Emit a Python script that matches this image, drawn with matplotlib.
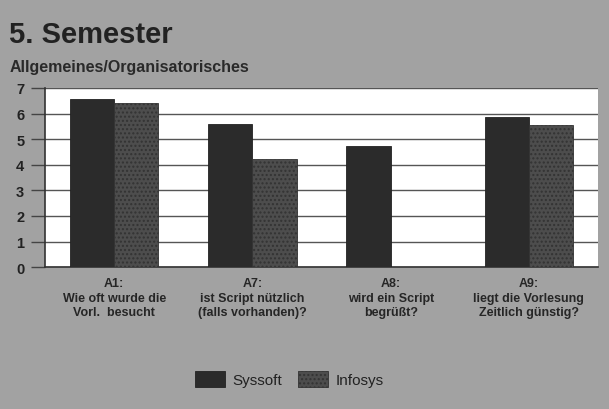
import numpy as np
import matplotlib.pyplot as plt

plt.rcParams["font.family"] = ["Liberation Sans", "DejaVu Sans"]

# Data
categories = ["A1:\nWie oft wurde die\nVorl.  besucht",
              "A7:\nist Script nützlich\n(falls vorhanden)?",
              "A8:\nwird ein Script\nbegrüßt?",
              "A9:\nliegt die Vorlesung\nZeitlich günstig?"]
syssoft = [6.55, 5.6, 4.72, 5.85]
infosys = [6.4, 4.22, np.nan, 5.56]
yticks = [0, 1, 2, 3, 4, 5, 6, 7]

bg = "#a2a2a2"
fig = plt.figure(figsize=(6.09, 4.10), dpi=100, facecolor=bg)
ax = fig.add_axes([0.074, 0.346, 0.908, 0.437])
ax.set_facecolor("white")

x = np.arange(len(categories))
w = 0.32
ax.bar(x - w/2, syssoft, w, color="#2b2b2b", edgecolor="#222222", lw=0.6,
       label="Syssoft", zorder=3)
ax.bar(x + w/2, infosys, w, color="#4d4d4d", edgecolor="#333333", lw=0.6,
       hatch="....", label="Infosys", zorder=3)

ax.set_xlim(-0.5, len(categories) - 0.5)
ax.set_ylim(0, 7)
ax.set_yticks(yticks)
ax.set_yticklabels([str(t) for t in yticks], fontsize=10.5, color="#222222",
                   fontweight="bold")
ax.yaxis.grid(True, color="#555555", lw=1.0, zorder=0)
ax.tick_params(axis="y", length=10, width=1, color="#444444", pad=5)
ax.set_xticks(x)
ax.set_xticklabels(categories, fontsize=9, color="#262626", linespacing=1.3,
                   fontweight="bold")
ax.tick_params(axis="x", length=0, pad=7)
for s in ["top", "right"]:
    ax.spines[s].set_visible(False)
ax.spines["left"].set_color("#333333")
ax.spines["left"].set_linewidth(1.2)
ax.spines["bottom"].set_color("#333333")
ax.spines["bottom"].set_linewidth(1.2)

fig.text(0.015, 0.915, "5. Semester", fontsize=21, fontweight="bold",
         color="#222222", va="center", ha="left")
fig.text(0.015, 0.835, "Allgemeines/Organisatorisches", fontsize=11.5,
         fontweight="bold", color="#2a2a2a", va="center", ha="left")

leg = fig.legend(loc="center", bbox_to_anchor=(0.475, 0.073), ncol=2,
                 frameon=False, fontsize=11, handlelength=2.0,
                 handleheight=1.2, handletextpad=0.5, columnspacing=1.0)
for t in leg.get_texts():
    t.set_color("#222222")

fig.savefig("out.png", dpi=100, facecolor=bg)
